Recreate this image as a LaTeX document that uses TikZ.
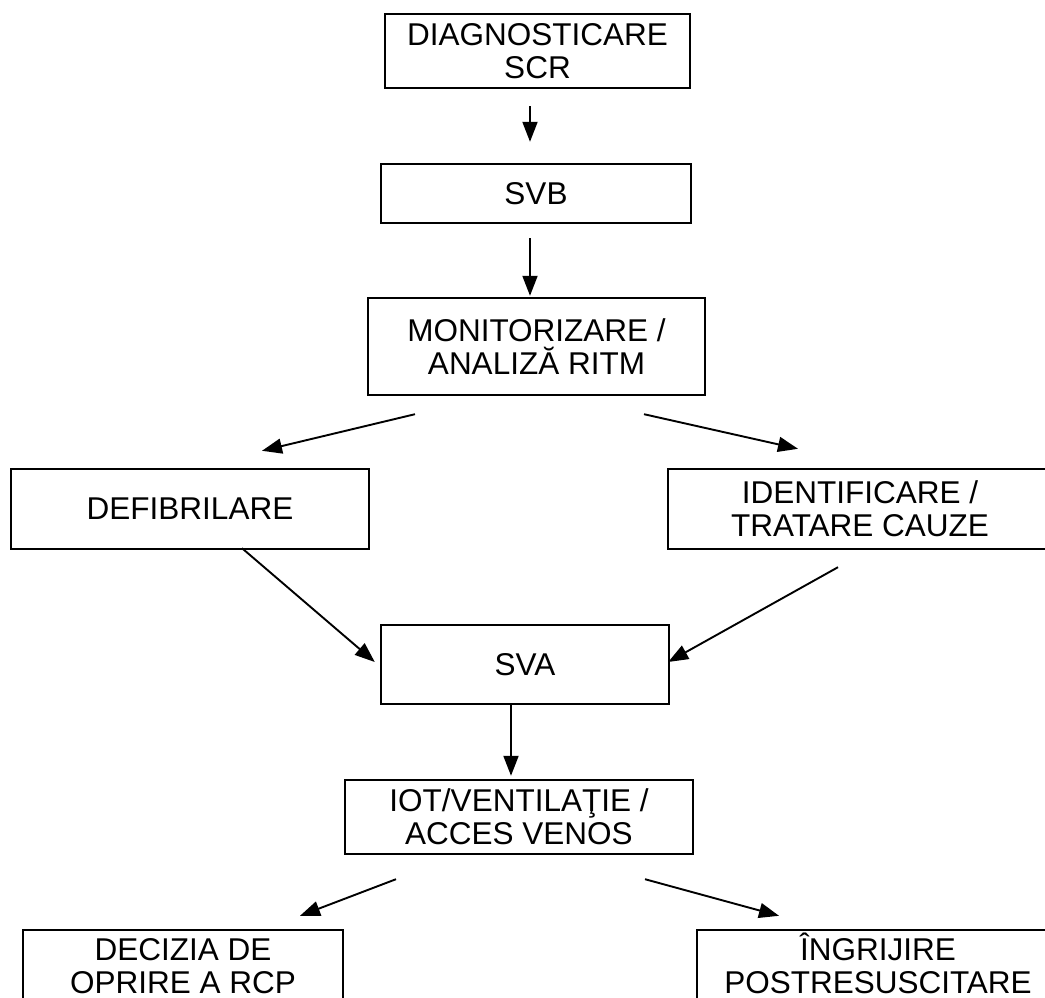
\documentclass[tikz,border=0pt]{standalone}
\usepackage{fontspec}
\setmainfont{Liberation Sans}
\usepackage{tikz}
\usetikzlibrary{arrows.meta}

\begin{document}
\begin{tikzpicture}[
    x=1pt, y=-1pt,
    box/.style={
        draw,
        line width=2.4pt,
        inner sep=0pt,
        align=center,
        font=\fontsize{31.5}{33}\selectfont,
    },
    arrow/.style={-{Triangle[length=20pt, width=15pt]}, line width=1.9pt},
]

\useasboundingbox (0,0) rectangle (1045,998);
\clip (0,0) rectangle (1045,998);

% ----- Nodes: top to bottom -----
\node[box, minimum width=305pt, minimum height=74pt] (diag) at (537.5,51) {DIAGNOSTICARE\\SCR};
\node[box, minimum width=310pt, minimum height=59pt] (svb) at (536,193.5) {SVB};
\node[box, minimum width=337pt, minimum height=97pt] (monit) at (536.5,346.5) {MONITORIZARE /\\ANALIZĂ RITM};
\node[box, minimum width=358pt, minimum height=80pt] (defib) at (190,509) {DEFIBRILARE};
\node[box, minimum width=384pt, minimum height=80pt] (ident) at (860,509) {IDENTIFICARE /\\TRATARE CAUZE};
\node[box, minimum width=288pt, minimum height=79pt] (sva) at (525,664.5) {SVA};
\node[box, minimum width=348pt, minimum height=74pt] (iot) at (519,817) {IOT/VENTILAŢIE /\\ACCES VENOS};
\node[box, minimum width=320pt, minimum height=72pt] (stop) at (183,966) {DECIZIA DE\\OPRIRE A RCP};
\node[box, minimum width=362pt, minimum height=72pt] (postres) at (878,966) {\smash{Î}NGRIJIRE\\POSTRESUSCITARE};

% ----- Arrows (free standing, between the boxes) -----
\draw[arrow] ([shift={(-7.5,17)}]diag.south) -- ([shift={(-6,-21)}]svb.north);
\draw[arrow] ([shift={(-6,14)}]svb.south) -- ([shift={(-6.5,-1)}]monit.north);
\draw[arrow] ([shift={(-121.5,18)}]monit.south) -- ([shift={(72,-17)}]defib.north);
\draw[arrow] ([shift={(107.5,18)}]monit.south) -- ([shift={(-62,-19)}]ident.north);
\draw[arrow] ([shift={(52,-2)}]defib.south) -- ([shift={(-5,-2.5)}]sva.west);
\draw[arrow] ([shift={(-22,17)}]ident.south) -- ([shift={(-2,-2.5)}]sva.east);
\draw[arrow] ([shift={(-14,-2)}]sva.south) -- ([shift={(-8,-3)}]iot.north);
\draw[arrow] ([shift={(-123,24)}]iot.south) -- ([shift={(117,-13)}]stop.north);
\draw[arrow] ([shift={(126,24)}]iot.south) -- ([shift={(-99,-13)}]postres.north);

\end{tikzpicture}
\end{document}
